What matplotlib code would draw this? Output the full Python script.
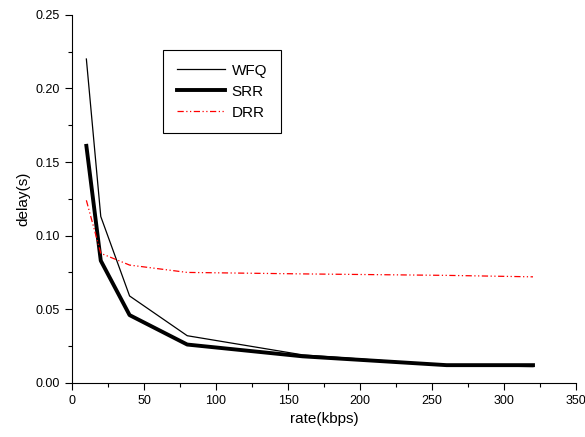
import matplotlib
matplotlib.use("Agg")
import matplotlib.pyplot as plt
from matplotlib.ticker import MultipleLocator

plt.rcParams['font.family'] = ['Liberation Sans', 'DejaVu Sans']

# 数据
rate = [10, 20, 40, 80, 160, 260, 320]
wfq = [0.220, 0.113, 0.059, 0.032, 0.019, 0.012, 0.011]
srr = [0.161, 0.083, 0.046, 0.026, 0.018, 0.012, 0.012]
drr = [0.124, 0.088, 0.080, 0.075, 0.074, 0.073, 0.072]

fig = plt.figure(figsize=(5.85, 4.37), dpi=100)
ax = fig.add_axes([0.123, 0.124, 0.862, 0.842])

ax.plot(rate, wfq, color='black', linewidth=0.9, label='WFQ')
ax.plot(rate, srr, color='black', linewidth=2.8, label='SRR')
ax.plot(rate, drr, color='red', linewidth=0.9, dashes=(5, 2, 1, 2, 1, 2), label='DRR')

ax.set_xlim(0, 350)
ax.set_ylim(0, 0.25)
ax.xaxis.set_major_locator(MultipleLocator(50))
ax.xaxis.set_minor_locator(MultipleLocator(25))
ax.yaxis.set_major_locator(MultipleLocator(0.05))
ax.yaxis.set_minor_locator(MultipleLocator(0.025))
ax.yaxis.set_major_formatter(plt.FormatStrFormatter('%.2f'))

ax.spines['top'].set_visible(False)
ax.spines['right'].set_visible(False)
ax.tick_params(which='major', direction='out', length=5, width=0.8, labelsize=9)
ax.tick_params(which='minor', direction='out', length=3, width=0.8)

ax.set_xlabel('rate(kbps)', fontsize=11)
ax.set_ylabel('delay(s)', fontsize=11)

leg = ax.legend(loc='upper left', bbox_to_anchor=(0.165, 0.925), fontsize=11,
                fancybox=False, edgecolor='black', framealpha=1,
                handlelength=3.2, handletextpad=0.4, borderpad=0.9,
                labelspacing=0.45)
leg.get_frame().set_linewidth(0.8)

plt.savefig('out.png', dpi=100)
